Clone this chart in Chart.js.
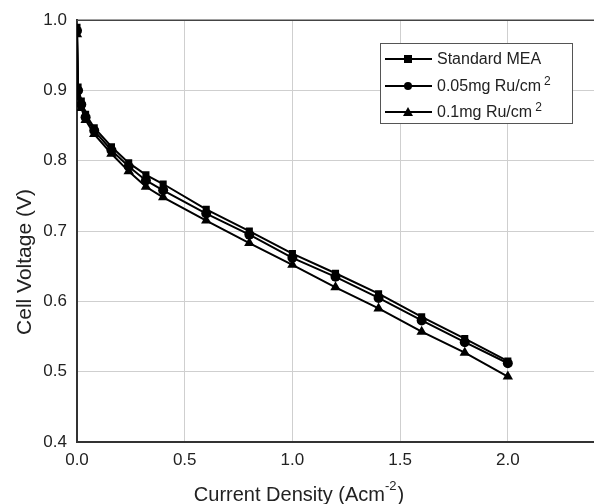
<!DOCTYPE html>
<html><head><meta charset="utf-8">
<script src="https://cdn.jsdelivr.net/npm/chart.js@4"></script>
<style>html,body{margin:0;padding:0;background:#fff;overflow:hidden}#wrap{width:594px;height:504px;position:relative;overflow:hidden}canvas{display:block}</style>
</head><body><div id="wrap"><canvas id="c" width="600" height="504"></canvas></div>
<script>
const currentDensity = [0, 0.005, 0.02, 0.04, 0.08, 0.16, 0.24, 0.32, 0.40, 0.6, 0.8, 1.0, 1.2, 1.4, 1.6, 1.8, 2.0];
const standardMEA   = [0.990, 0.905, 0.885, 0.866, 0.847, 0.820, 0.797, 0.780, 0.767, 0.731, 0.700, 0.668, 0.640, 0.611, 0.578, 0.547, 0.515];
const ru005         = [0.985, 0.900, 0.880, 0.862, 0.843, 0.815, 0.792, 0.772, 0.758, 0.725, 0.695, 0.662, 0.635, 0.605, 0.573, 0.542, 0.512];
const ru01          = [0.980, 0.890, 0.875, 0.858, 0.838, 0.810, 0.785, 0.763, 0.748, 0.715, 0.683, 0.652, 0.620, 0.590, 0.557, 0.527, 0.493];
const seriesNames = ["Standard MEA", "0.05mg Ru/cm", "0.1mg Ru/cm"];
const seriesSup = ["", "2", "2"];
const seriesMarkers = ["rect", "circle", "triangle"];
const xTicks = [0, 0.5, 1.0, 1.5, 2.0];
const xTitle = ["Current Density (Acm", "-2", ")"];
const yTitle = "Cell Voltage (V)";

const FONT = "'Liberation Sans', Arial, sans-serif";
function pts(ys){ return currentDensity.map((x,i)=>({x:x,y:ys[i]})); }
const allY = [standardMEA, ru005, ru01];

const legendPlugin = {
  id:'customLegend',
  afterDraw(chart){
    const ctx = chart.ctx;
    ctx.save();
    const bx=380, by=43, bw=192, bh=80;
    ctx.fillStyle='#fff'; ctx.fillRect(bx,by,bw,bh);
    ctx.strokeStyle='#555'; ctx.lineWidth=1; ctx.strokeRect(bx+0.5,by+0.5,bw,bh);
    const rows=[59,86,112];
    rows.forEach((yy,i)=>{
      ctx.strokeStyle='#000'; ctx.lineWidth=2;
      ctx.beginPath(); ctx.moveTo(385,yy); ctx.lineTo(432,yy); ctx.stroke();
      ctx.fillStyle='#000';
      const mx=408;
      if(seriesMarkers[i]==='rect'){ ctx.fillRect(mx-4,yy-4,8,8); }
      else if(seriesMarkers[i]==='circle'){ ctx.beginPath(); ctx.arc(mx,yy,4,0,Math.PI*2); ctx.fill(); }
      else { ctx.beginPath(); ctx.moveTo(mx,yy-5); ctx.lineTo(mx+5,yy+4); ctx.lineTo(mx-5,yy+4); ctx.closePath(); ctx.fill(); }
      ctx.fillStyle='#222';
      ctx.font='16px '+FONT; ctx.textBaseline='middle'; ctx.textAlign='left';
      ctx.fillText(seriesNames[i],437,yy+1);
      if(seriesSup[i]){
        const w=ctx.measureText(seriesNames[i]).width;
        ctx.font='12px '+FONT;
        ctx.fillText(seriesSup[i],437+w+3,yy-4);
      }
    });
    // x title with superscript
    ctx.fillStyle='#222'; ctx.textBaseline='alphabetic'; ctx.textAlign='left';
    ctx.font='20px '+FONT;
    const w1=ctx.measureText(xTitle[0]).width, w3=ctx.measureText(xTitle[2]).width;
    ctx.font='13px '+FONT; const w2=ctx.measureText(xTitle[1]).width;
    const total=w1+w2+1+w3;
    const cx=299;
    let sx=cx-total/2;
    ctx.font='20px '+FONT; ctx.fillText(xTitle[0],sx,501);
    ctx.font='13px '+FONT; ctx.fillText(xTitle[1],sx+w1,490);
    ctx.font='20px '+FONT; ctx.fillText(xTitle[2],sx+w1+w2+1,501);
    // y title
    ctx.save();
    ctx.translate(25,262); ctx.rotate(-Math.PI/2);
    ctx.font='21px '+FONT; ctx.textAlign='center'; ctx.textBaseline='middle';
    ctx.fillText(yTitle,0,0);
    ctx.restore();
    // top border
    ctx.strokeStyle='#444'; ctx.lineWidth=1.5;
    ctx.beginPath(); ctx.moveTo(chart.chartArea.left,chart.chartArea.top); ctx.lineTo(chart.chartArea.right,chart.chartArea.top); ctx.stroke();
    ctx.restore();
  }
};

new Chart(document.getElementById('c'), {
  type:'scatter',
  data:{ datasets: seriesNames.map((n,i)=>({
    label:n+seriesSup[i],
    data:pts(allY[i]),
    showLine:true,
    borderColor:'#000', backgroundColor:'#000', borderWidth:2,
    pointStyle:seriesMarkers[i], pointRadius: i===2?6:5, pointBorderWidth:0,
    tension:0
  }))},
  options:{
    responsive:false, animation:false,
    layout:{padding:{top:13,right:0,left:0,bottom:0}},
    plugins:{legend:{display:false}, tooltip:{enabled:false}},
    scales:{
      x:{ type:'linear', min:0, max:2.4,
        afterBuildTicks(s){ s.ticks = xTicks.map(v=>({value:v})); },
        afterFit(s){ s.height=62; s.paddingRight=0; },
        ticks:{ font:{family:FONT,size:17}, color:'#222', padding:8, maxRotation:0, callback:v=>v.toFixed(1)},
        grid:{ color:'#cfcfcf', lineWidth:1, drawTicks:false },
        border:{ color:'#333', width:2 }
      },
      y:{ type:'linear', min:0.4, max:1.0,
        afterFit(s){ s.width=77; },
        ticks:{ stepSize:0.1, font:{family:FONT,size:17}, color:'#222', padding:10, callback:v=>v.toFixed(1)},
        grid:{ color:'#cfcfcf', lineWidth:1, drawTicks:false },
        border:{ color:'#333', width:2 }
      }
    }
  },
  plugins:[legendPlugin]
});
</script></body></html>
